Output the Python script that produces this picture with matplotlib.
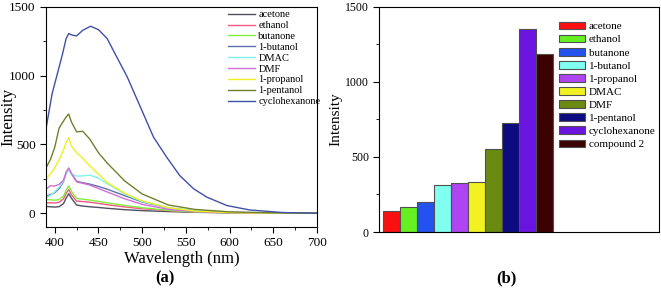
import matplotlib
matplotlib.use("Agg")
import matplotlib.pyplot as plt
from matplotlib.ticker import MultipleLocator

plt.rcParams['font.family'] = ['Liberation Serif', 'DejaVu Serif']

# --- panel (a): emission spectra ---
wl = [390, 395, 400, 405, 410, 413, 416, 419, 425, 432, 440, 450, 460, 480, 500, 530, 560, 600, 650, 700]
acetone = [50, 47, 45, 48, 70, 110, 142, 110, 60, 52, 47, 42, 36, 26, 19, 12, 7, 3, 1, 0]
ethanol = [75, 76, 75, 80, 105, 145, 172, 135, 88, 85, 80, 72, 62, 46, 33, 19, 10, 4, 1, 0]
butanone = [100, 98, 95, 100, 125, 170, 199, 160, 108, 102, 96, 86, 76, 57, 40, 21, 10, 4, 1, 0]
butanol = [125, 135, 150, 180, 230, 290, 322, 290, 232, 222, 212, 195, 175, 128, 82, 38, 17, 6, 2, 0]
dmac = [115, 130, 155, 190, 235, 290, 315, 285, 270, 272, 278, 255, 215, 140, 85, 40, 19, 6, 2, 0]
dmf = [175, 200, 198, 210, 240, 300, 330, 290, 228, 218, 205, 180, 155, 105, 65, 28, 12, 4, 1, 0]
propanol = [250, 285, 330, 390, 460, 515, 550, 490, 440, 400, 345, 285, 225, 145, 90, 40, 16, 5, 1, 0]
pentanol = [330, 390, 480, 620, 670, 700, 722, 665, 592, 596, 540, 440, 365, 235, 140, 60, 28, 10, 3, 1]

cyc_wl = [390, 397, 405, 409, 413, 416, 420, 425, 432, 441, 450, 460, 467, 483, 498, 513, 528, 543, 559, 574, 597, 623, 661, 700]
cyclohexanone = [614, 870, 1063, 1161, 1270, 1307, 1295, 1290, 1330, 1360, 1335, 1270, 1184, 990, 772, 553, 408, 274, 177, 117, 56, 24, 5, 0]

# --- panel (b): intensity per solvent ---
bar_labels = ['acetone', 'ethanol', 'butanone', '1-butanol', '1-propanol', 'DMAC', 'DMF',
              '1-pentanol', 'cyclohexanone', 'compound 2']
bar_values = [142, 166, 199, 312, 328, 332, 552, 725, 1349, 1188]
bar_colors = ['#fa1010', '#66f022', '#2452ee', '#80fff0', '#b044f2', '#f2f222', '#6a8a12',
              '#0c0c80', '#6a14e0', '#3a0202']

fig = plt.figure(figsize=(6.61, 2.88), dpi=100)

ax1 = fig.add_axes([0.0696, 0.2118, 0.41, 0.764])
series = [
    (wl, acetone, 'acetone', '#505060'),
    (wl, ethanol, 'ethanol', '#f05880'),
    (wl, butanone, 'butanone', '#80f040'),
    (wl, butanol, '1-butanol', '#6070b0'),
    (wl, dmac, 'DMAC', '#80f0f0'),
    (wl, dmf, 'DMF', '#d070d8'),
    (wl, propanol, '1-propanol', '#f0f020'),
    (wl, pentanol, '1-pentanol', '#708030'),
    (cyc_wl, cyclohexanone, 'cyclohexanone', '#4050a8'),
]
for x, y, lab, col in series:
    ax1.plot(x, y, color=col, lw=1.0, label=lab)
ax1.set_xlim(390, 700)
ax1.set_ylim(-100, 1500)
ax1.xaxis.set_major_locator(MultipleLocator(50))
ax1.xaxis.set_minor_locator(MultipleLocator(25))
ax1.yaxis.set_major_locator(MultipleLocator(500))
ax1.yaxis.set_minor_locator(MultipleLocator(250))
ax1.tick_params(which='both', direction='out', labelsize=9.5)
ax1.tick_params(which='major', length=4)
ax1.tick_params(which='minor', length=2)
ax1.set_xlabel('Wavelength (nm)', fontsize=12, labelpad=1)
ax1.set_ylabel('Intensity', fontsize=12)
ax1.yaxis.set_label_coords(-0.11, 0.5)
ax1.legend(loc='upper left', bbox_to_anchor=(0.345, 0.965), bbox_transform=fig.transFigure,
           frameon=False, fontsize=7.5, handlelength=2.6, handletextpad=0.3,
           labelspacing=0.15, borderaxespad=0, borderpad=0)
fig.text(0.25, 0.02, '(a)', fontsize=12, fontweight='bold', ha='center')

ax2 = fig.add_axes([0.5738, 0.1944, 0.4232, 0.782])
pos = list(range(len(bar_values)))
for i, (v, lab, col) in enumerate(zip(bar_values, bar_labels, bar_colors)):
    ax2.bar(pos[i], v, width=1.0, color=col, edgecolor='#505050', lw=0.8, label=lab)
ax2.set_xlim(-0.7, 15.75)
ax2.set_ylim(0, 1500)
ax2.set_xticks([])
ax2.yaxis.set_major_locator(MultipleLocator(500))
ax2.yaxis.set_minor_locator(MultipleLocator(250))
ax2.tick_params(which='both', direction='out', labelsize=8.5)
ax2.tick_params(which='major', length=4)
ax2.tick_params(which='minor', length=2)
ax2.set_ylabel('Intensity', fontsize=11, labelpad=2)
ax2.legend(loc='upper left', bbox_to_anchor=(0.845, 0.925), bbox_transform=fig.transFigure,
           frameon=False, fontsize=8, handlelength=2.4, handleheight=0.7, handletextpad=0.3,
           labelspacing=0.3, borderaxespad=0, borderpad=0)
fig.text(0.766, 0.02, '(b)', fontsize=12, fontweight='bold', ha='center')

fig.savefig('out.png', dpi=100)
